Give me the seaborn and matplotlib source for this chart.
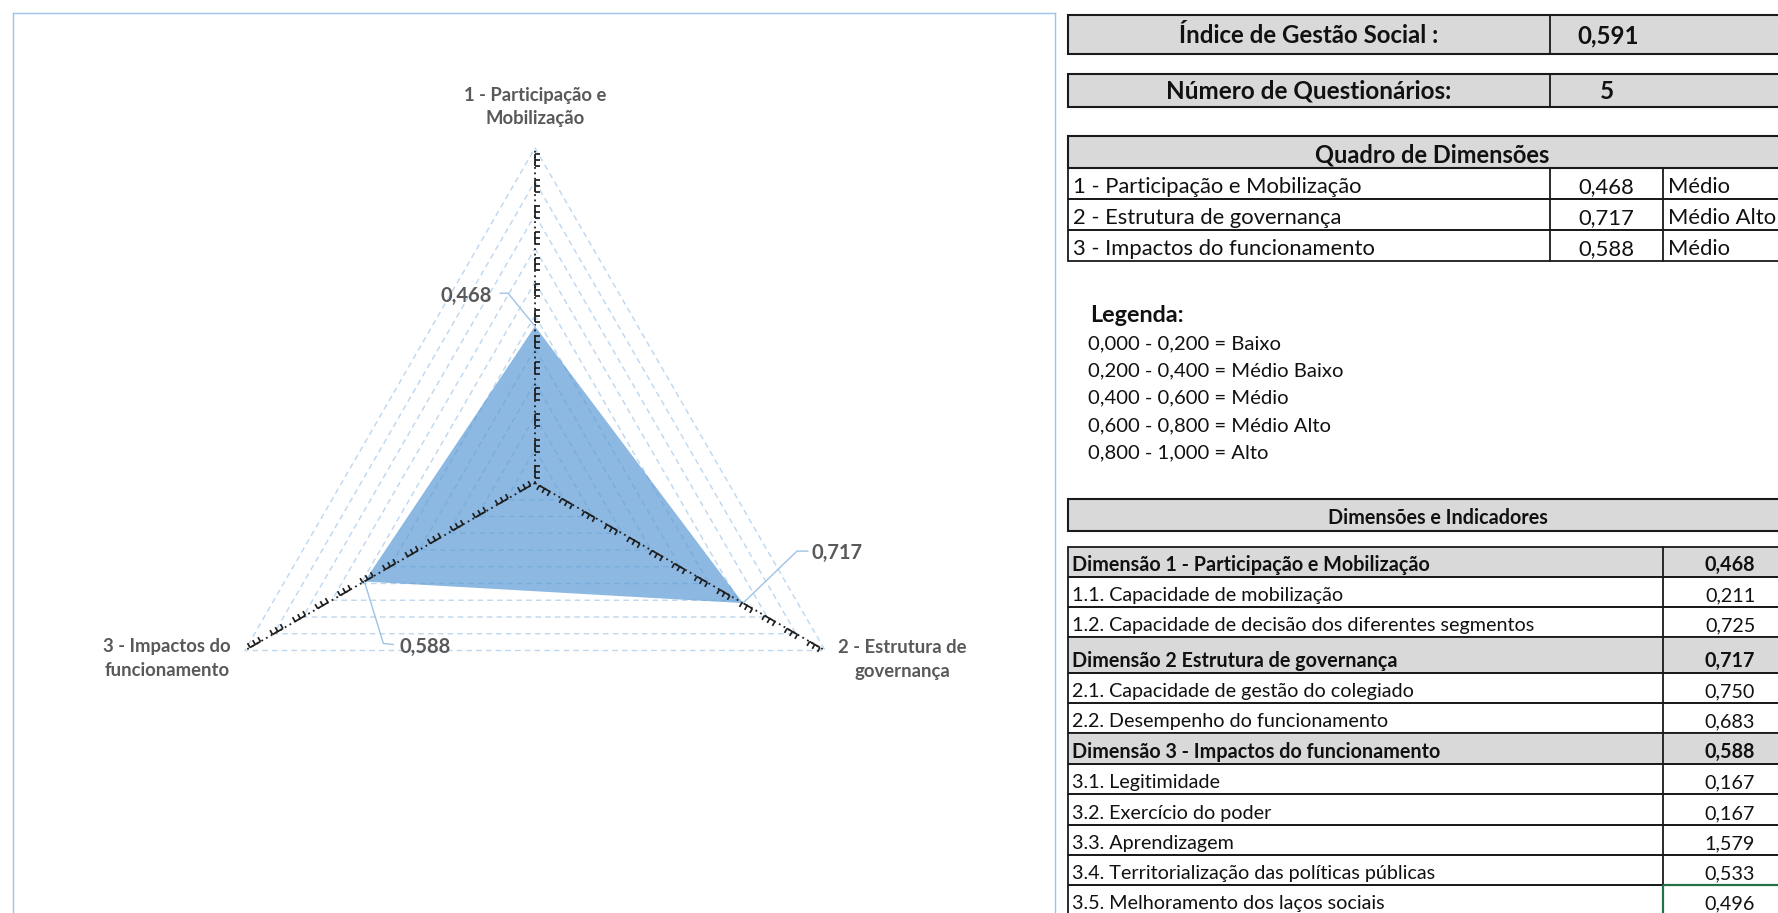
import numpy as np
import matplotlib
matplotlib.use("Agg")
import matplotlib.pyplot as plt
from matplotlib.patches import Rectangle
from matplotlib.collections import LineCollection
import seaborn as sns

# ---------------------------------------------------------------- data
dimensoes_eixo = ["1 - Participação e\nMobilização",
                  "2 - Estrutura de\ngovernança",
                  "3 - Impactos do\nfuncionamento"]
dimensoes_nome = ["1 - Participação e Mobilização",
                  "2 - Estrutura de governança",
                  "3 - Impactos do funcionamento"]
dimensoes_valor = [0.468, 0.717, 0.588]
dimensoes_classe = ["Médio", "Médio Alto", "Médio"]

indice_gestao_social = 0.591
numero_questionarios = 5

legenda_faixas = ["0,000 - 0,200 = Baixo",
                  "0,200 - 0,400 = Médio Baixo",
                  "0,400 - 0,600 = Médio",
                  "0,600 - 0,800 = Médio Alto",
                  "0,800 - 1,000 = Alto"]

indicadores_nome = ["Dimensão 1 - Participação e Mobilização",
                    "1.1. Capacidade de mobilização",
                    "1.2. Capacidade de decisão dos diferentes segmentos",
                    "Dimensão 2 Estrutura de governança",
                    "2.1. Capacidade de gestão do colegiado",
                    "2.2. Desempenho do funcionamento",
                    "Dimensão 3 - Impactos do funcionamento",
                    "3.1. Legitimidade",
                    "3.2. Exercício do poder",
                    "3.3. Aprendizagem",
                    "3.4. Territorialização das políticas públicas",
                    "3.5. Melhoramento dos laços sociais"]
indicadores_valor = [0.468, 0.211, 0.725, 0.717, 0.750, 0.683,
                     0.588, 0.167, 0.167, 1.579, 0.533, 0.496]
indicadores_dimensao = [True, False, False, True, False, False,
                        True, False, False, False, False, False]


def fmt(v):
    return f"{v:.3f}".replace(".", ",")


# ---------------------------------------------------------------- style
sns.set_theme(style="white")
plt.rcParams["font.family"] = ["Lato", "DejaVu Sans"]

W, H = 1778, 913
fig = plt.figure(figsize=(W / 100, H / 100), dpi=100)
fig.patch.set_facecolor("white")

# radar area: centre and radius in pixels
CX, CY, R = 535, 483, 335
BOX_L, BOX_T, BOX_R = 13, 13, 1055
ax = fig.add_axes([BOX_L / W, 0, (BOX_R - BOX_L) / W, (H - BOX_T) / H])
ax.set_xlim((BOX_L - CX) / R, (BOX_R - CX) / R)
ax.set_ylim((CY - H) / R, (CY - BOX_T) / R)
ax.set_xticks([])
ax.set_yticks([])
for side in ("top", "left", "right"):
    ax.spines[side].set_color("#9DC3E6")
    ax.spines[side].set_linewidth(1.0)
ax.spines["bottom"].set_visible(False)

grid_c = "#BDD7EE"
label_c = "#595959"
angles = np.deg2rad([90, -30, 210])
ux, uy = np.cos(angles), np.sin(angles)

# dashed triangular grid rings
for r in np.arange(1, 11) / 10:
    ax.plot(np.append(r * ux, r * ux[0]), np.append(r * uy, r * uy[0]),
            color=grid_c, lw=1.0, ls=(0, (4, 3)), zorder=2)

# filled series
vals = np.array(dimensoes_valor)
ax.fill(vals * ux, vals * uy, color="#5B9BD5", alpha=0.7, lw=0, zorder=3)

# radial axes with tick marks
period, seg_len, prong = 26 / R, 12 / R, 5 / R
for a in angles:
    u = np.array([np.cos(a), np.sin(a)])
    n = np.array([np.sin(a), -np.cos(a)])
    ax.plot([0, u[0]], [0, u[1]], color="#1f1f1f", lw=1.3,
            ls=(0, (1, 2)), zorder=4)
    segs = []
    t = 0.015
    while t + seg_len <= 1.0:
        segs.append([t * u, (t + seg_len) * u])
        for s in (0.0, 0.5, 1.0):
            p = (t + s * seg_len) * u
            segs.append([p, p + prong * n])
        t += period
    ax.add_collection(LineCollection(segs, colors="#1f1f1f", lw=1.25, zorder=4))

# category labels (pixel offsets from each vertex)
cat_off = [(0, 41), (77, -9), (-78, -8)]
for name, x, y, (dx, dy) in zip(dimensoes_eixo, ux, uy, cat_off):
    ax.text(x + dx / R, y + dy / R, name, ha="center", va="center",
            multialignment="center", fontsize=13.3, fontweight="bold",
            color=label_c, linespacing=1.45, zorder=5)

# data labels with leader lines (pixel offsets from each point)
leaders = [[(0, 0), (-27, 33), (-35, 33)],
           [(0, 0), (54, 52), (65, 52)],
           [(0, 0), (19, -62), (29, -63)]]
lab_pos = [(-43, 30, "right"), (68, 50, "left"), (35, -65, "left")]
for v, x, y, lead, (dx, dy, ha) in zip(vals, ux, uy, leaders, lab_pos):
    px, py = v * x, v * y
    lx = [px + a / R for a, b in lead]
    ly = [py + b / R for a, b in lead]
    ax.plot(lx, ly, color="#9DC3E6", lw=1.0, zorder=5)
    ax.text(px + dx / R, py + dy / R, fmt(v), ha=ha, va="center",
            fontsize=14.5, fontweight="bold", color=label_c, zorder=5)

# ---------------------------------------------------------------- tables
tb = fig.add_axes([0, 0, 1, 1], zorder=10)
tb.set_xlim(0, W)
tb.set_ylim(H, 0)
tb.axis("off")
tb.patch.set_alpha(0)

GREY = "#D9D9D9"
INK = "#111111"
L, RIGHT = 1068, 1810
C1, C2 = 1550, 1663


def box(x0, y0, x1, y1, fill=None, lw=1.3, ec="#1a1a1a"):
    tb.add_patch(Rectangle((x0, y0), x1 - x0, y1 - y0,
                           facecolor=fill if fill else "none",
                           edgecolor=ec, lw=lw, zorder=1))


def vline(x, y0, y1, lw=1.3):
    tb.plot([x, x], [y0, y1], color="#1a1a1a", lw=lw, zorder=2)


# Índice de Gestão Social
box(L, 15, RIGHT, 54, GREY, lw=1.5)
vline(C1, 15, 54)
tb.text((L + C1) / 2, 43, "Índice de Gestão Social :", ha="center",
        va="baseline", fontsize=17.3, fontweight="bold", color=INK)
tb.text(1577, 43, fmt(indice_gestao_social), ha="left", va="baseline",
        fontsize=17.3, fontweight="bold", color=INK)

# Número de Questionários
box(L, 74, RIGHT, 107, GREY, lw=1.5)
vline(C1, 74, 107)
tb.text((L + C1) / 2, 99, "Número de Questionários:", ha="center",
        va="baseline", fontsize=17.5, fontweight="bold", color=INK)
tb.text(1607, 99, str(numero_questionarios), ha="center", va="baseline",
        fontsize=17.5, fontweight="bold", color=INK)

# Quadro de Dimensões
box(L, 136, RIGHT, 168, GREY, lw=1.5)
tb.text(1432, 163, "Quadro de Dimensões", ha="center", va="baseline",
        fontsize=17, fontweight="bold", color=INK)
y = 168
for nome, v, cls in zip(dimensoes_nome, dimensoes_valor, dimensoes_classe):
    box(L, y, RIGHT, y + 31, None)
    vline(C1, y, y + 31)
    vline(C2, y, y + 31)
    tb.text(1073, y + 25, nome, ha="left", va="baseline", fontsize=15.8,
            color=INK)
    tb.text((C1 + C2) / 2, y + 25, fmt(v), ha="center", va="baseline",
            fontsize=15.8, color=INK)
    tb.text(1668, y + 25, cls, ha="left", va="baseline", fontsize=15.8,
            color=INK)
    y += 31

# Legenda
tb.text(1090, 322, "Legenda:", ha="left", va="baseline", fontsize=16.8,
        fontweight="bold", color=INK)
for i, faixa in enumerate(legenda_faixas):
    tb.text(1088, 349 + i * 27.3, faixa, ha="left", va="baseline",
            fontsize=14.6, color=INK)

# Dimensões e Indicadores
box(L, 499, RIGHT, 531, GREY, lw=1.5)
tb.text(1438, 524, "Dimensões e Indicadores", ha="center", va="baseline",
        fontsize=14.2, fontweight="bold", color=INK)

row_h = [30, 30, 30, 36, 30, 30, 31, 30, 31, 30, 30, 30]
y = 547
for nome, v, dim, h in zip(indicadores_nome, indicadores_valor,
                           indicadores_dimensao, row_h):
    box(L, y, RIGHT, y + h, GREY if dim else None)
    vline(C2, y, y + h)
    weight = "bold" if dim else "normal"
    tb.text(1072, y + h - 6, nome, ha="left", va="baseline", fontsize=14.2,
            fontweight=weight, color=INK)
    tb.text(1730, y + h - 6, fmt(v), ha="center", va="baseline",
            fontsize=14.2, fontweight=weight, color=INK)
    y += h

# active cell outline
sel_y = 547 + sum(row_h[:-1])
tb.add_patch(Rectangle((C2, sel_y), 200, 60, facecolor="none",
                       edgecolor="#217346", lw=1.6, zorder=3))

fig.savefig("out.png", dpi=100, facecolor="white")
